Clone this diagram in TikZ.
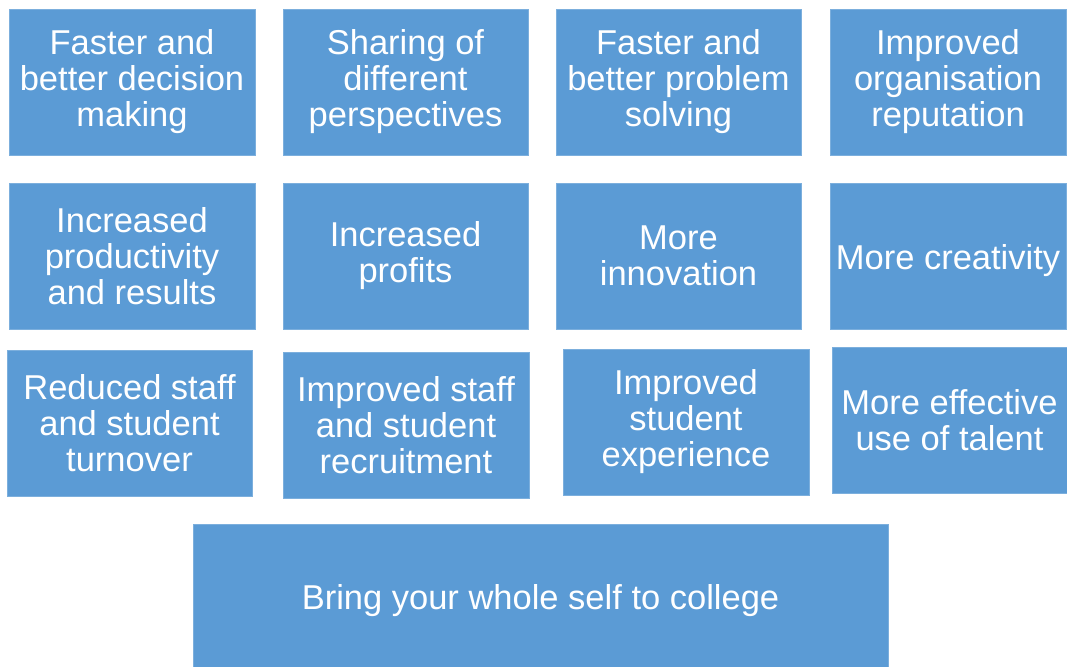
\documentclass[tikz,border=0pt]{standalone}
\usepackage{fontspec}
\setmainfont{Liberation Sans}
\definecolor{benefit}{HTML}{5B9BD5}
\tikzset{
  benefitbox/.style={fill=benefit, draw=benefit!80!white, line width=0.6pt, text=white,
    align=center, inner sep=0pt, font=\fontsize{34.5}{36}\selectfont,
    execute at begin node=\rule{0pt}{35pt}}
}
\begin{document}
\begin{tikzpicture}[x=1pt, y=1pt]
  \useasboundingbox (0,0) rectangle (1067,666);
  % top row
  \node[benefitbox, minimum width=246, minimum height=146] (decision) at (132,584) {Faster and\\better decision\\making};
  \node[benefitbox, minimum width=245, minimum height=146] (perspectives) at (405.5,584) {Sharing of\\different\\perspectives};
  \node[benefitbox, minimum width=245, minimum height=146] (problem) at (678.5,584) {Faster and\\better problem\\solving};
  \node[benefitbox, minimum width=236, minimum height=146] (reputation) at (948,584) {Improved\\organisation\\reputation};
  % second row
  \node[benefitbox, minimum width=246, minimum height=146] (productivity) at (132,410) {Increased\\productivity\\and results};
  \node[benefitbox, minimum width=245, minimum height=146] (profits) at (405.5,410) {Increased\\profits};
  \node[benefitbox, minimum width=245, minimum height=146] (innovation) at (678.5,410) {More\\innovation};
  \node[benefitbox, minimum width=236, minimum height=146] (creativity) at (948,410) {More creativity};
  % third row
  \node[benefitbox, minimum width=245, minimum height=146] (turnover) at (129.5,243) {Reduced staff\\and student\\turnover};
  \node[benefitbox, minimum width=246, minimum height=146] (recruitment) at (406,241) {Improved staff\\and student\\recruitment};
  \node[benefitbox, minimum width=246, minimum height=146] (experience) at (686,244) {Improved\\student\\experience};
  \node[benefitbox, minimum width=235, minimum height=146] (talent) at (949.5,246) {More effective\\use of talent};
  % base
  \node[benefitbox, minimum width=695, minimum height=144] (wholeself) at (540.5,70) {Bring your whole self to college};
\end{tikzpicture}
\end{document}
